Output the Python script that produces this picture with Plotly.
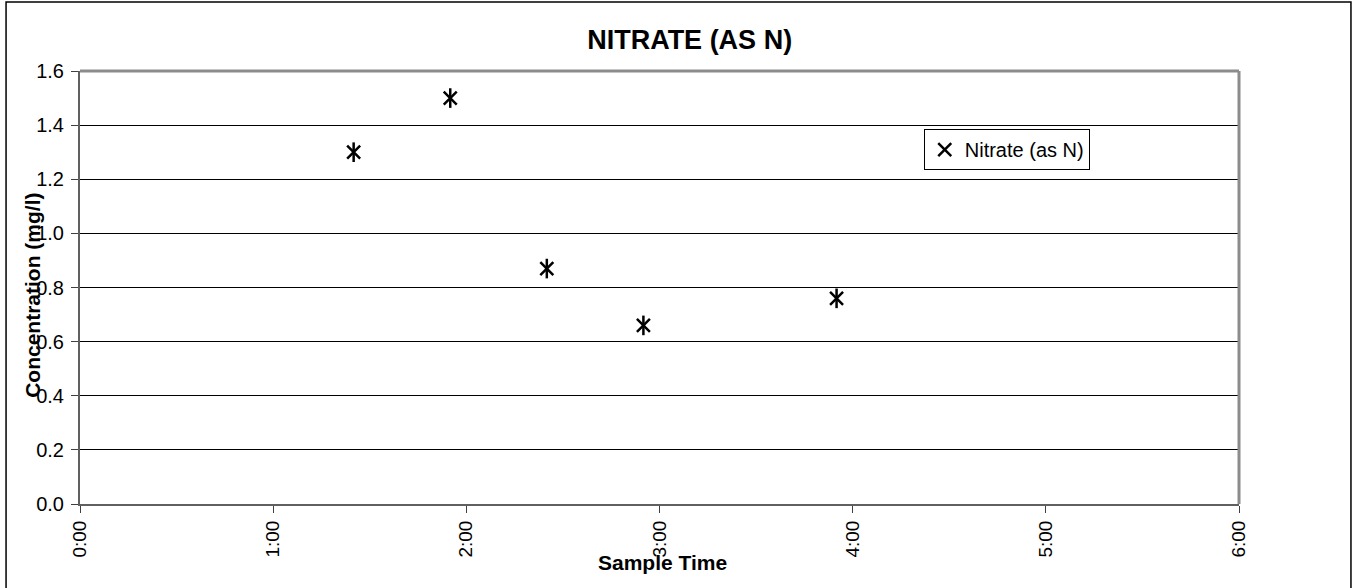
import plotly.graph_objects as go

# sample times (h:mm) and nitrate concentration (mg/l)
sample_time = ["1:25", "1:55", "2:25", "2:55", "3:55"]
nitrate = [1.30, 1.50, 0.87, 0.66, 0.76]

tick_hours = [0, 1, 2, 3, 4, 5, 6]
tick_labels = ["0:00", "1:00", "2:00", "3:00", "4:00", "5:00", "6:00"]


def to_hours(s):
    h, m = s.split(":")
    return int(h) + int(m) / 60


x = [to_hours(s) for s in sample_time]

fig = go.Figure()
# Excel-style star marker = X + vertical bar
fig.add_trace(go.Scatter(
    x=x, y=nitrate, mode="markers", name="Nitrate (as N)",
    marker=dict(symbol="x-thin-open", size=13, color="black",
                line=dict(color="black", width=2.5)),
))
fig.add_trace(go.Scatter(
    x=x, y=nitrate, mode="markers", showlegend=False,
    marker=dict(symbol="line-ns-open", size=14, color="black",
                line=dict(color="black", width=2.5)),
))

fig.update_layout(
    width=1355, height=588,
    margin=dict(l=80, r=116, t=71, b=84),
    paper_bgcolor="white", plot_bgcolor="white",
    font=dict(family="Liberation Sans, Arial, sans-serif", size=19, color="black"),
    title=dict(text="<b>NITRATE (AS N)</b>", x=0.526, xref="paper",
               y=1 - 40 / 588, yanchor="middle", font=dict(size=27)),
    showlegend=True,
    legend=dict(x=0.728, y=0.866, xanchor="left", yanchor="top",
                bordercolor="black", borderwidth=1, bgcolor="white",
                font=dict(size=20), itemwidth=30),
    xaxis=dict(range=[0, 6], tickvals=tick_hours, ticktext=tick_labels,
               tickangle=-90, ticks="outside", ticklen=7, tickcolor="#404040",
               showgrid=False, zeroline=False, showline=True,
               linecolor="#606060", linewidth=2),
    yaxis=dict(range=[0, 1.6], dtick=0.2, tickformat=".1f",
               ticks="outside", ticklen=7, tickcolor="#404040",
               tickfont=dict(size=20), ticklabelstandoff=3,
               showgrid=True, gridcolor="black", gridwidth=1,
               zeroline=False, showline=True, linecolor="#606060", linewidth=2),
    annotations=[
        dict(text="<b>Concentration (mg/l)</b>", textangle=-90,
             xref="paper", yref="paper", x=-0.0406, y=0.483,
             xanchor="center", yanchor="middle",
             showarrow=False, font=dict(size=21)),
        dict(text="<b>Sample Time</b>", xref="paper", yref="paper",
             x=0.503, y=-0.134, xanchor="center", yanchor="middle",
             showarrow=False, font=dict(size=21)),
    ],
    shapes=[
        # plot-area border (top and right)
        dict(type="line", xref="paper", yref="paper", x0=0, x1=1, y0=1, y1=1,
             line=dict(color="#8c8c8c", width=3)),
        dict(type="line", xref="paper", yref="paper", x0=1, x1=1, y0=0, y1=1,
             line=dict(color="#8c8c8c", width=3)),
        # chart-area border
        dict(type="rect", xref="paper", yref="paper",
             x0=-0.0638, x1=1.0966, y0=-0.2, y1=1.1594,
             line=dict(color="black", width=1.5)),
    ],
)

fig.write_html("out.html", config={"displayModeBar": False},
               post_script="document.body.style.margin='0';")
